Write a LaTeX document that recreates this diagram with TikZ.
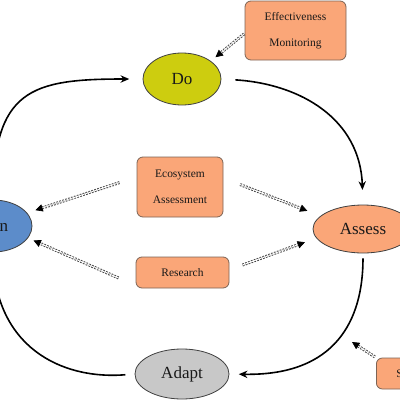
\documentclass[tikz,border=0pt]{standalone}
\usepackage{fontspec}
\setmainfont{Liberation Serif}
\usetikzlibrary{arrows.meta,shapes.geometric}
\definecolor{salmon}{RGB}{250,166,120}
\definecolor{boxline}{RGB}{125,100,85}
\definecolor{doc}{RGB}{205,205,15}
\definecolor{planc}{RGB}{92,140,202}
\definecolor{adaptc}{RGB}{200,200,200}
\newcommand{\darr}[4]{\draw[dline, shorten <=#3, shorten >=#4+4.5pt] #1 -- #2; \draw[dtip, shorten <=#3, shorten >=#4] #1 -- #2;}
\begin{document}
\begin{tikzpicture}[x=0.75pt,y=0.75pt,
 ell/.style={ellipse, draw=black!75, line width=0.6pt, inner sep=0pt, font=\fontsize{12.75}{14}\selectfont, text=black!90},
 box/.style={rectangle, rounded corners=4.5pt, draw=boxline, line width=0.6pt, fill=salmon, inner sep=0pt, align=center, font=\fontsize{8.6}{19.5}\selectfont, text=black!90},
 cyc/.style={line width=1.2pt, black, -{Stealth[length=6.5pt,width=5.5pt]}},
 dline/.style={draw=black!75, line width=0.7pt, double=white, double distance=0.8pt, dash pattern=on 1.3pt off 1pt},
 dtip/.style={draw=black, line width=0.5pt, dash pattern=on 0pt off 3000pt, -{Triangle[length=5.5pt,width=5.5pt]}},
]
\useasboundingbox (0,0) rectangle (400,-400);
\fill[white] (0,0) rectangle (400,-400);
\clip (0,0) rectangle (400,-400);

\node[ell, fill=doc, minimum width=58.5pt, minimum height=39pt] (Do) at (182,-79) {Do};
\node[ell, fill=planc, minimum width=58.5pt, minimum height=39pt] (Plan) at (-7,-226) {Plan};
\node[ell, fill=salmon, minimum width=75pt, minimum height=36pt] (Assess) at (363,-229) {Assess};
\node[ell, fill=adaptc, minimum width=70.5pt, minimum height=37.5pt] (Adapt) at (182,-374) {Adapt};
\node[box, minimum width=75.75pt, minimum height=44.25pt] (Eff) at (295.5,-30.5) {Effectiveness\\Monitoring};
\node[box, minimum width=64.5pt, minimum height=45pt] (Eco) at (180,-187) {Ecosystem\\Assessment};
\node[box, minimum width=69.75pt, minimum height=23.25pt] (Res) at (182.5,-272.5) {Research};
\node[box, anchor=west, minimum height=23.25pt, text width=45pt, align=left, inner xsep=15pt] (S) at (376,-373.5) {S};

\draw[cyc, shorten >=10pt] (Plan.north) .. controls +(0,110) and +(-112,0) .. (Do.west);
\draw[cyc, shorten <=10.5pt, shorten >=11pt] (Do.east) .. controls +(80,-5) and +(-3,85) .. (Assess.north);
\draw[cyc, shorten <=3.75pt, shorten >=7pt] (Assess.south) .. controls +(0,-67) and +(106,-2) .. (Adapt.east);
\draw[cyc, shorten <=7pt] (Adapt.west) .. controls +(-75,-6) and +(2,-93) .. (Plan.south);

\darr{([yshift=-2.25pt]Eff.west)}{(Do.32)}{0.5pt}{4.5pt}
\darr{([yshift=7.5pt]Eco.west)}{(Plan.21)}{13.5pt}{6.5pt}
\darr{([yshift=-9.75pt]Res.west)}{(Plan.-19)}{14pt}{4.5pt}
\darr{([yshift=6.75pt]Eco.east)}{(Assess.163)}{13.5pt}{10.5pt}
\darr{([yshift=2pt]Res.east)}{(Assess.191)}{10.5pt}{9pt}
\coordinate (sp) at (352,-342);
\darr{(S.north west)}{(sp)}{1pt}{0pt}
\end{tikzpicture}
\end{document}
